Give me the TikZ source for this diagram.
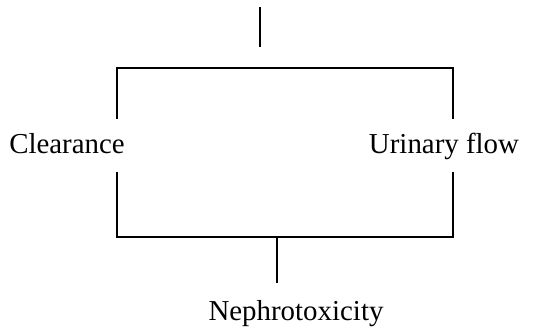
\documentclass[tikz,border=0pt]{standalone}
\usepackage{fontspec}
\setmainfont{Liberation Serif}
\begin{document}
\begin{tikzpicture}[x=1bp,y=-1bp,
  lbl/.style={font=\fontsize{29}{32}\selectfont, inner sep=0pt, anchor=base},
  ln/.style={line width=1.3bp, line cap=butt}]
\useasboundingbox (0,0) rectangle (553,327);
\node[lbl] (clear) at (67,153) {Clearance};
\node[lbl] (urine) at (444,153) {Urinary flow};
\node[lbl] (neph) at (296,320) {Nephrotoxicity};
\coordinate (top) at (260,7);
\coordinate (topE) at (260,47);
\coordinate (tl) at (117,68);
\coordinate (tr) at (453,68);
\coordinate (tlE) at (117,119);
\coordinate (trE) at (453,119);
\coordinate (blS) at (117,172);
\coordinate (brS) at (453,172);
\coordinate (bl) at (117,237);
\coordinate (br) at (453,237);
\coordinate (bm) at (277,237);
\coordinate (bmE) at (277,283);
\draw[ln] (top) -- (topE);
\draw[ln] (tlE) -- (tl) -- (tr) -- (trE);
\draw[ln] (blS) -- (bl) -- (br) -- (brS);
\draw[ln] (bm) -- (bmE);
\end{tikzpicture}
\end{document}
